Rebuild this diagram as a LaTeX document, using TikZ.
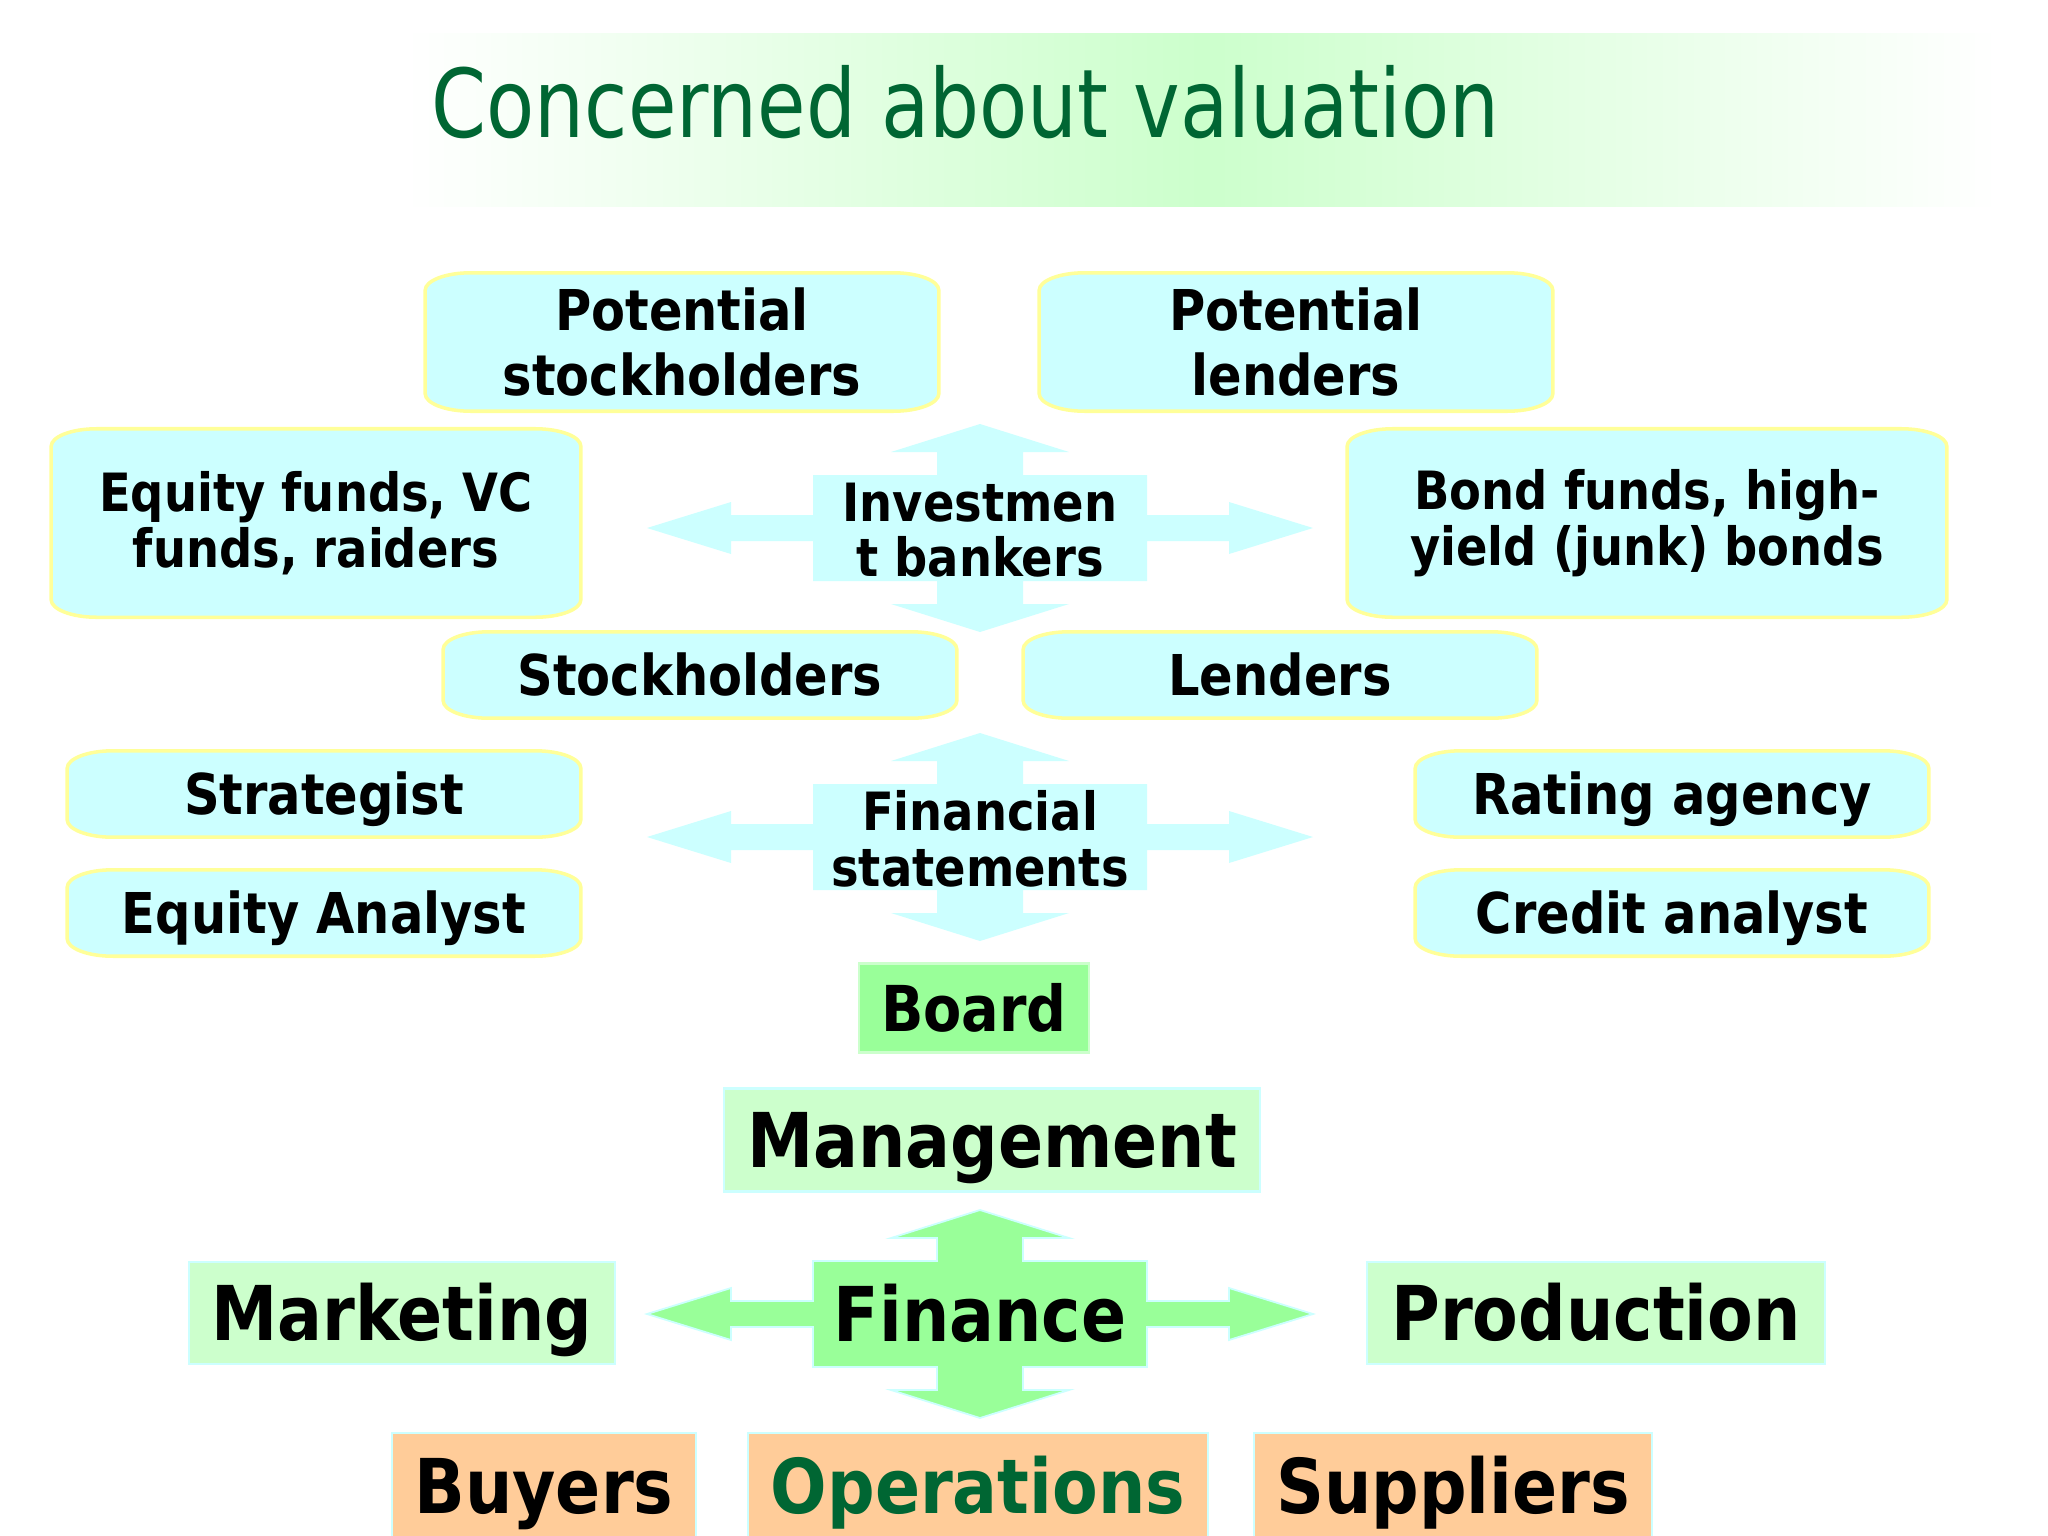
\documentclass[tikz,border=0pt]{standalone}
\usepackage{fontspec}
\setmainfont{DejaVu Sans}[FakeStretch=0.88]
\newfontfamily\titlefont{DejaVu Sans}[FakeStretch=0.83]
\usetikzlibrary{backgrounds,calc}
\definecolor{boxcyan}{HTML}{CCFFFF}
\definecolor{boxedge}{HTML}{FFFF99}
\definecolor{boardgreen}{HTML}{99FF99}
\definecolor{palegreen}{HTML}{CCFFCC}
\definecolor{peach}{HTML}{FFCC99}
\definecolor{titlegreen}{HTML}{006633}

\tikzset{
  quad/.pic={
    \path[pic actions]
      (0,-104) -- (89,-76) -- (43,-76) -- (43,-53) -- (167,-53) -- (167,-13)
      -- (249,-13) -- (249,-26) -- (333,0) -- (249,26) -- (249,13) -- (167,13)
      -- (167,53) -- (43,53) -- (43,76) -- (89,76) -- (0,104) -- (-89,76)
      -- (-43,76) -- (-43,53) -- (-167,53) -- (-167,13) -- (-249,13) -- (-249,26)
      -- (-333,0) -- (-249,-26) -- (-249,-13) -- (-167,-13) -- (-167,-53)
      -- (-43,-53) -- (-43,-76) -- (-89,-76) -- cycle;
  },
}

\begin{document}
\begin{tikzpicture}[x=0.01cm, y=-0.01cm,
    every node/.style={font=\bfseries, inner sep=0pt, align=center},
    midtext/.style={font=\bfseries\fontsize{16}{18.5}\selectfont},
    smalltext/.style={font=\bfseries\fontsize{15}{15.8}\selectfont},
    bigtext/.style={font=\bfseries\fontsize{21.5}{24}\selectfont,
      text height=15.7pt, text depth=0pt},
    thinbox/.style={midtext, text height=11.7pt, text depth=0pt,
      minimum width=5.12cm, minimum height=0.85cm},
    tallbox/.style={midtext, minimum width=5.12cm, minimum height=1.37cm},
    fundbox/.style={smalltext, minimum height=1.87cm},
    greenbox/.style={bigtext, fill=palegreen, draw=boxcyan, line width=0.6pt},
    peachbox/.style={bigtext, fill=peach, draw=boxcyan, line width=0.6pt,
      minimum height=1.06cm},
    softbox/.style={fill=boxcyan, draw=boxedge, line width=1pt}]

  \useasboundingbox (0,0) rectangle (2048,1536);

  % title
  \node[anchor=base west, font=\titlefont\fontsize{27}{30}\selectfont,
    text=titlegreen] (title) at (431,137) {Concerned about valuation};

  % investors
  \node[tallbox] (pstock) at (682,342) {Potential\\stockholders};
  \node[tallbox] (plend) at (1296,342) {Potential\\lenders};
  \node[fundbox, minimum width=5.28cm] (eqfund) at (316,523) {Equity funds, VC\\funds, raiders};
  \node[fundbox, minimum width=5.98cm] (bondfund) at (1647,523) {Bond funds, high-\\yield (junk) bonds};
  \node[smalltext] (inv) at (980,530) {Investmen\\t bankers};
  \node[thinbox] (stock) at (700,675) {Stockholders};
  \node[thinbox] (lend) at (1280,675) {Lenders};

  % analysts
  \foreach \n/\t/\px/\py in {strat/Strategist/324/794, eqanal/Equity Analyst/324/913,
      rating/Rating agency/1672/794, credit/Credit analyst/1672/913}
    \node[thinbox] (\n) at (\px,\py) {\t};
  \node[smalltext] (fin) at (980,839) {Financial\\statements};

  % firm
  \node[font=\bfseries\fontsize{18}{20}\selectfont, text height=13.1pt, text depth=0pt,
    fill=boardgreen, draw=palegreen, line width=0.6pt,
    minimum width=2.29cm, minimum height=0.89cm] (board) at (974,1008) {Board};
  \node[greenbox, minimum width=5.35cm, minimum height=1.03cm] (mgmt) at (992,1140) {Management};
  \foreach \n/\t/\px/\w in {mkt/Marketing/402/4.26, prod/Production/1596/4.58}
    \node[greenbox, minimum width=\w cm, minimum height=1.02cm] (\n) at (\px,1313) {\t};
  \node[bigtext] (finance) at (980,1314) {Finance};

  \node[peachbox, minimum width=3.03cm] (buyers) at (544,1486) {Buyers};
  \node[peachbox, minimum width=4.60cm, text=titlegreen] (ops) at (978,1486) {Operations};
  \node[peachbox, minimum width=3.98cm] (supp) at (1453,1486) {Suppliers};

  \begin{scope}[on background layer]
    \fill[white] (0,0) rectangle (2048,1536);
    \shade[left color=white, right color=white, middle color=palegreen]
      (405,33) rectangle (1998,206);
    \pic[fill=boxcyan] at (980,528) {quad};
    \pic[fill=boxcyan] at (980,837) {quad};
    \pic[fill=boardgreen, draw=boxcyan, line width=0.5pt] at (finance) {quad};
    \foreach \b in {pstock,plend,eqfund,bondfund,stock,lend,strat,eqanal,rating,credit}
      \path[softbox] let \p1=(\b.south west), \p2=(\b.north east) in
        (\x1+13pt,\y1) -- (\x2-13pt,\y1)
        arc[start angle=270, end angle=360, x radius=13pt, y radius=5pt]
        -- (\x2,\y2-5pt)
        arc[start angle=0, end angle=90, x radius=13pt, y radius=5pt]
        -- (\x1+13pt,\y2)
        arc[start angle=90, end angle=180, x radius=13pt, y radius=5pt]
        -- (\x1,\y1+5pt)
        arc[start angle=180, end angle=270, x radius=13pt, y radius=5pt]
        -- cycle;
  \end{scope}
\end{tikzpicture}
\end{document}
